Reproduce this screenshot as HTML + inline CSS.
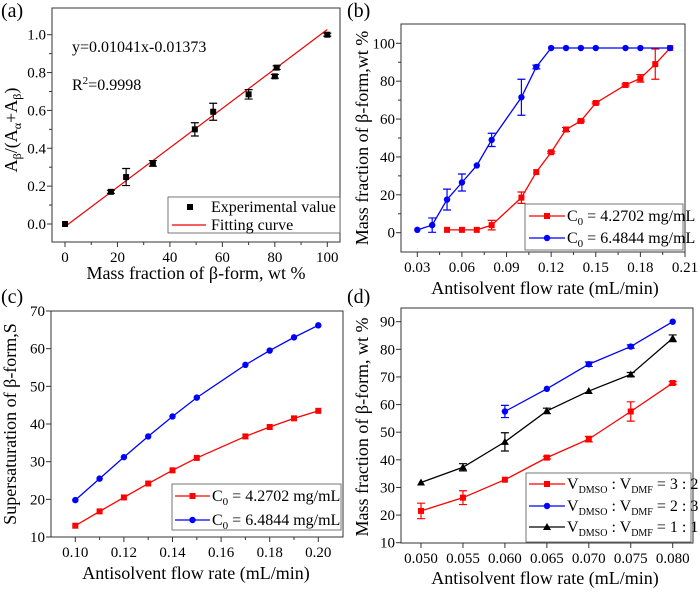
<!DOCTYPE html>
<html><head><meta charset="utf-8"><style>
body{margin:0;background:#fff}
svg,svg text{font-family:"Liberation Serif","DejaVu Serif",serif}
</style></head><body>
<svg id="fig" width="700" height="590" viewBox="0 0 700 590" xmlns="http://www.w3.org/2000/svg" font-family="Liberation Serif, DejaVu Serif, serif"></svg>
<script>
// ---- Panel (a) data ----
const aX = [0,17.5,23.3,33.5,49.5,56.5,70,80,80.7,100];
const aY = [0,0.17,0.248,0.32,0.5,0.593,0.685,0.78,0.826,1.0];
const aErr = [0,0.008,0.045,0.015,0.035,0.045,0.025,0.01,0.01,0.008];
const aSlope = 0.01041, aIntercept = -0.01373;
const aXTicks = [0,20,40,60,80,100];
const aYTicks = [0,0.2,0.4,0.6,0.8,1.0];
const aYTickLabels = ["0.0","0.2","0.4","0.6","0.8","1.0"];
// ---- Panel (b) data ----
const bRedX = [0.05,0.06,0.07,0.08,0.10,0.11,0.12,0.13,0.14,0.15,0.17,0.18,0.19,0.20];
const bRedY = [1.5,1.5,1.5,4,18.5,32,42.5,54.5,59,68.5,78,81.5,89,97.5];
const bRedErr = [0,0,0,2.5,3,0,0.5,1,0.5,0.5,0.5,2,8,0];
const bBlueX = [0.03,0.04,0.05,0.06,0.07,0.08,0.10,0.11,0.12,0.13,0.14,0.15,0.17,0.18,0.20];
const bBlueY = [1.5,4,17.5,26.5,35.5,49,71.5,87.5,97.5,97.5,97.5,97.5,97.5,97.5,97.5];
const bBlueErr = [0,3.8,5.5,4.5,0,3.5,9.5,1,0,0,0,0,0,0,0];
const bXTicks = [0.03,0.06,0.09,0.12,0.15,0.18,0.21];
const bYTicks = [0,20,40,60,80,100];
// ---- Panel (c) data ----
const cX = [0.10,0.11,0.12,0.13,0.14,0.15,0.17,0.18,0.19,0.20];
const cRedY = [13,16.8,20.5,24.2,27.7,31,36.7,39.2,41.5,43.5];
const cBlueY = [19.8,25.5,31.2,36.7,42,47,55.7,59.5,63,66.2];
const cXTicks = [0.10,0.12,0.14,0.16,0.18,0.20];
const cYTicks = [10,20,30,40,50,60,70];
// ---- Panel (d) data ----
const dX = [0.050,0.055,0.060,0.065,0.070,0.075,0.080];
const dRedY = [21.5,26.3,32.8,40.8,47.5,57.5,67.8];
const dRedErr = [2.8,2.5,0,0.5,1,3.5,0.5];
const dBlueX = [0.060,0.065,0.070,0.075,0.080];
const dBlueY = [57.5,65.7,74.6,81,90];
const dBlueErr = [2.2,0,0.8,0.6,0];
const dBlackY = [31.8,37.3,46.5,57.7,64.9,70.9,84];
const dBlackErr = [0,1.3,3.3,1,0,0.7,1.2];
const dXTicks = [0.050,0.055,0.060,0.065,0.070,0.075,0.080];
const dYTicks = [10,20,30,40,50,60,70,80,90];

const NS="http://www.w3.org/2000/svg";
const FONT='"Liberation Serif","DejaVu Serif",serif';
const svg=document.getElementById('fig');
function el(tag,attrs,parent){const e=document.createElementNS(NS,tag);for(const k in attrs)e.setAttribute(k,attrs[k]);(parent||svg).appendChild(e);return e;}
function txt(s,x,y,size,anchor,parent){const t=el('text',{x:x,y:y,'font-size':size,'text-anchor':anchor||'start',fill:'#000'},parent);t.style.fontFamily=FONT;t.textContent=s;return t;}
function scale(d0,d1,r0,r1){return v=>r0+(v-d0)*(r1-r0)/(d1-d0);}

function frame(g,L,T,R,B){
  const r=el('rect',{x:L,y:T,width:R-L,height:B-T,fill:'none',stroke:'#333','stroke-width':1},g);
  
  
}
function xAxis(g,ticks,labels,sx,B,minor){
  ticks.forEach((v,i)=>{
    el('line',{x1:sx(v),x2:sx(v),y1:B,y2:B+5,stroke:'#333'},g);
    const t=txt(labels[i],sx(v),B+20,15,'middle',g);
    
    
    if(minor&&i<ticks.length-1){const m=(v+ticks[i+1])/2;el('line',{x1:sx(m),x2:sx(m),y1:B,y2:B+3,stroke:'#333'},g);}
  });
}
function yAxis(g,ticks,labels,sy,L,minor){
  ticks.forEach((v,i)=>{
    el('line',{x1:L-5,x2:L,y1:sy(v),y2:sy(v),stroke:'#333'},g);
    const t=txt(labels[i],L-6,sy(v)+5,15,'end',g);
    
    
    if(minor&&i<ticks.length-1){const m=(v+ticks[i+1])/2;el('line',{x1:L-3,x2:L,y1:sy(m),y2:sy(m),stroke:'#333'},g);}
  });
}
function marker(g,type,x,y,color){
  let m;
  if(type==='sq')m=el('rect',{x:x-3,y:y-3,width:6,height:6,fill:color},g);
  else if(type==='ci')m=el('circle',{cx:x,cy:y,r:3.2,fill:color},g);
  else m=el('polygon',{points:`${x},${y-4} ${x-4},${y+3} ${x+4},${y+3}`,fill:color},g);
  
  
}
function series(g,xs,ys,errs,sx,sy,color,type,name,line){
  if(line){const p=el('polyline',{points:xs.map((v,i)=>sx(v)+','+sy(ys[i])).join(' '),fill:'none',stroke:color,'stroke-width':1.3},g);
    
    }
  xs.forEach((v,i)=>{
    const e=errs?errs[i]:0;
    if(e>0){const x=sx(v),y1=sy(ys[i]-e),y2=sy(ys[i]+e);
      el('path',{d:`M${x},${y1}V${y2}M${x-4},${y1}H${x+4}M${x-4},${y2}H${x+4}`,stroke:color,'stroke-width':1.2,fill:'none'},g);}
    marker(g,type,sx(v),sy(ys[i]),color);
  });
}
function panelLabel(s,x,y){const t=txt(s,x,y,20,'start');}
function legendEntry(g,x1,x2,y,color,type,label,tx,hasLine){
  if(hasLine)el('line',{x1:x1,x2:x2,y1:y,y2:y,stroke:color,'stroke-width':1.3},g);
  if(type)marker(g,type,(x1+x2)/2,y,color);
  const t=el('text',{x:tx,y:y+5,'font-size':16},g);t.style.fontFamily=FONT;t.innerHTML=label;
  
  
}
function legendBox(g,x,y,w,h){const r=el('rect',{x:x,y:y,width:w,height:h,fill:'#fff',stroke:'#555','stroke-width':0.8},g);
  
  }
function yTitle(g,html,x,y){const t=el('text',{x:0,y:0,'font-size':18,'text-anchor':'middle',transform:`translate(${x},${y}) rotate(-90)`},g);t.style.fontFamily=FONT;t.innerHTML=html;
  
  }
function xTitle(g,s,x,y){const t=txt(s,x,y,18,'middle',g);}
function group(name){const g=el('g',{});return g;}

// ---------- Panel A ----------
(function(){
  const g=group('panel-a');
  const L=52,R=340,T=8,B=242;
  const sx=scale(0,100,65,327.3), sy=scale(0,1,224,34.7);
  frame(g,L,T,R,B);
  xAxis(g,aXTicks,aXTicks.map(String),sx,B,true);
  yAxis(g,aYTicks,aYTickLabels,sy,L,true);
  const fl=el('line',{x1:sx(0),y1:sy(aIntercept),x2:sx(100),y2:sy(aSlope*100+aIntercept),stroke:'#e00','stroke-width':1.2},g);
  
  
  series(g,aX,aY,aErr,sx,sy,'#000','sq','experimental',false);
  const e1=txt('y=0.01041x-0.01373',72,52,16,'start',g);
  const e2=el('text',{x:72,y:90,'font-size':16},g);e2.style.fontFamily=FONT;e2.innerHTML='R<tspan dy="-6" font-size="11">2</tspan><tspan dy="6">=0.9998</tspan>';
  
  legendBox(g,168,197,172,36);
  legendEntry(g,182,198,207,'#000','sq','Experimental value',211,false);
  legendEntry(g,172,206,225,'#e00',null,'Fitting curve',211,true);
  yTitle(g,'A<tspan dy="4" font-size="12">β</tspan><tspan dy="-4">/(A</tspan><tspan dy="4" font-size="12">α</tspan><tspan dy="-4">+A</tspan><tspan dy="4" font-size="12">β</tspan><tspan dy="-4">)</tspan>',17,130);
  xTitle(g,'Mass fraction of β-form, wt %',196,279);
})();
panelLabel('(a)',1,17);

// ---------- Panel B ----------
(function(){
  const g=group('panel-b');
  const L=401,R=685,T=24,B=252;
  const sx=scale(0.03,0.21,417.3,685), sy=scale(0,100,232.7,43.3);
  frame(g,L,T,R,B);
  xAxis(g,bXTicks,bXTicks.map(v=>v.toFixed(2)),sx,B,true);
  yAxis(g,bYTicks,bYTicks.map(String),sy,L,true);
  series(g,bRedX,bRedY,bRedErr,sx,sy,'#f00','sq','red-series',true);
  series(g,bBlueX,bBlueY,bBlueErr,sx,sy,'#00f','ci','blue-series',true);
  legendBox(g,525,204,158,46);
  legendEntry(g,529,565,216,'#f00','sq','C<tspan dy="4" font-size="11">0</tspan><tspan dy="-4"> = 4.2702 mg/mL</tspan>',567,true);
  legendEntry(g,529,565,238,'#00f','ci','C<tspan dy="4" font-size="11">0</tspan><tspan dy="-4"> = 6.4844 mg/mL</tspan>',567,true);
  yTitle(g,'Mass fraction of β-form,wt %',368,138);
  xTitle(g,'Antisolvent flow rate (mL/min)',545,294);
})();
panelLabel('(b)',347,17);

// ---------- Panel C ----------
(function(){
  const g=group('panel-c');
  const L=51,R=343,T=311,B=537;
  const sx=scale(0.10,0.20,75.3,318.3), sy=scale(10,70,537,311);
  frame(g,L,T,R,B);
  xAxis(g,cXTicks,cXTicks.map(v=>v.toFixed(2)),sx,B,true);
  yAxis(g,cYTicks,cYTicks.map(String),sy,L,false);
  series(g,cX,cRedY,null,sx,sy,'#f00','sq','red-series',true);
  series(g,cX,cBlueY,null,sx,sy,'#00f','ci','blue-series',true);
  legendBox(g,172,484,169,46);
  legendEntry(g,175,210,496,'#f00','sq','C<tspan dy="4" font-size="11">0</tspan><tspan dy="-4"> = 4.2702 mg/mL</tspan>',212,true);
  legendEntry(g,175,210,520,'#00f','ci','C<tspan dy="4" font-size="11">0</tspan><tspan dy="-4"> = 6.4844 mg/mL</tspan>',212,true);
  yTitle(g,'Supersaturation of β-form,S',16,424);
  xTitle(g,'Antisolvent flow rate (mL/min)',196,579);
})();
panelLabel('(c)',1,303);

// ---------- Panel D ----------
(function(){
  const g=group('panel-d');
  const L=401,R=693,T=308,B=543;
  const sx=scale(0.050,0.080,421,672.7), sy=scale(10,90,542.7,321.7);
  frame(g,L,T,R,B);
  xAxis(g,dXTicks,dXTicks.map(v=>v.toFixed(3)),sx,B,false);
  yAxis(g,dYTicks,dYTicks.map(String),sy,L,false);
  series(g,dX,dRedY,dRedErr,sx,sy,'#f00','sq','red-series',true);
  series(g,dBlueX,dBlueY,dBlueErr,sx,sy,'#00f','ci','blue-series',true);
  series(g,dX,dBlackY,dBlackErr,sx,sy,'#000','tri','black-series',true);
  legendBox(g,526,473,165,69);
  const sub=(a,b)=>`V<tspan dy="4" font-size="10">DMSO</tspan><tspan dy="-4"> : V</tspan><tspan dy="4" font-size="10">DMF</tspan><tspan dy="-4"> = ${a} : ${b}</tspan>`;
  legendEntry(g,529,565,484,'#f00','sq',sub(3,2),567,true);
  legendEntry(g,529,565,506,'#00f','ci',sub(2,3),567,true);
  legendEntry(g,529,565,527,'#000','tri',sub(1,1),567,true);
  yTitle(g,'Mass fraction of β-form, wt %',368,427);
  xTitle(g,'Antisolvent flow rate (mL/min)',545,584);
})();
panelLabel('(d)',347,303);
</script>
</body></html>
